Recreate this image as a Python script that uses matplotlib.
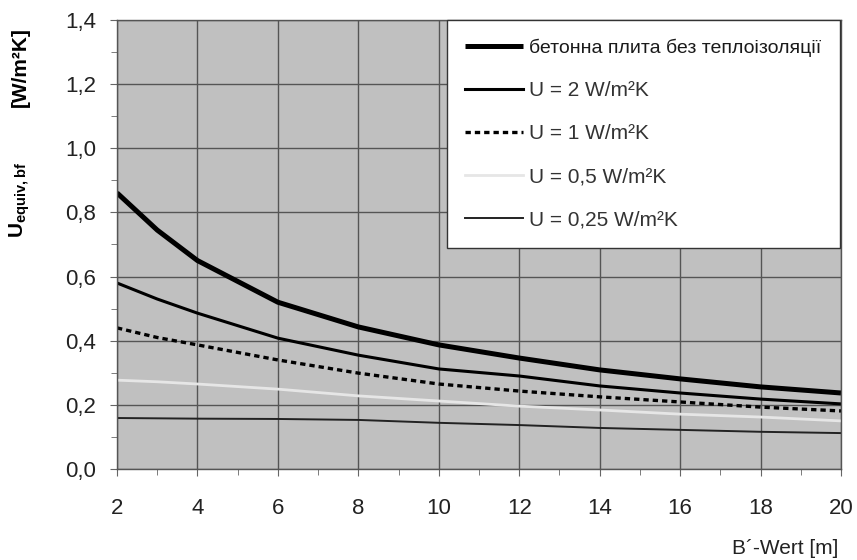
import matplotlib
matplotlib.use("Agg")
import matplotlib.pyplot as plt
from matplotlib.ticker import MultipleLocator, FuncFormatter

plt.rcParams['font.family'] = ['Liberation Sans', 'DejaVu Sans']
plt.rcParams['mathtext.fontset'] = 'custom'
plt.rcParams['mathtext.bf'] = 'Liberation Sans:bold'
plt.rcParams['mathtext.rm'] = 'Liberation Sans'

x = [2, 3, 4, 6, 8, 10, 12, 14, 16, 18, 20]
s_concrete = [0.861, 0.745, 0.650, 0.520, 0.443, 0.387, 0.346, 0.309, 0.281, 0.256, 0.237]
s_u2 = [0.580, 0.530, 0.486, 0.408, 0.355, 0.312, 0.290, 0.259, 0.237, 0.218, 0.203]
s_u1 = [0.440, 0.410, 0.387, 0.340, 0.299, 0.265, 0.243, 0.225, 0.209, 0.193, 0.181]
s_u05 = [0.277, 0.272, 0.265, 0.249, 0.228, 0.212, 0.196, 0.184, 0.171, 0.162, 0.150]
s_u025 = [0.159, 0.158, 0.157, 0.156, 0.153, 0.144, 0.137, 0.128, 0.122, 0.116, 0.112]

labels = ["бетонна плита без теплоізоляції", "U = 2 W/m²K", "U = 1 W/m²K",
          "U = 0,5 W/m²K", "U = 0,25 W/m²K"]
xticks = [2, 4, 6, 8, 10, 12, 14, 16, 18, 20]
yticks = [0.0, 0.2, 0.4, 0.6, 0.8, 1.0, 1.2, 1.4]

fig = plt.figure(figsize=(8.57, 5.6), dpi=100)
ax = fig.add_axes([117/857, 91/560, 724/857, 449/560])
ax.set_facecolor('#c0c0c0')

l1, = ax.plot(x, s_concrete, color='black', lw=3.6, solid_capstyle='butt')
l2, = ax.plot(x, s_u2, color='black', lw=2.2)
l3, = ax.plot(x, s_u1, color='black', lw=2.4, linestyle=(0, (1.6, 1.2)))
l4, = ax.plot(x, s_u05, color='#e6e6e6', lw=2.0)
l5, = ax.plot(x, s_u025, color='#222222', lw=1.4)

ax.set_xlim(2, 20)
ax.set_ylim(0, 1.4)
ax.set_xticks(xticks)
ax.set_yticks(yticks)
ax.xaxis.set_minor_locator(MultipleLocator(1))
ax.yaxis.set_minor_locator(MultipleLocator(0.1))
ax.yaxis.set_major_formatter(FuncFormatter(lambda v, p: f"{v:.1f}".replace('.', ',')))
ax.grid(True, which='major', color='#555555', lw=1.0)
ax.set_axisbelow(True)
ax.tick_params(which='both', direction='out', colors='#666666', labelcolor='#222222',
               labelsize=16)
ax.tick_params(which='major', length=5)
ax.tick_params(which='minor', length=4)
ax.tick_params(axis='x', which='major', pad=16)
ax.tick_params(axis='y', which='major', pad=10)
for sp in ax.spines.values():
    sp.set_color('#555555')
    sp.set_linewidth(1.0)

leg = ax.legend([l1, l2, l3, l4, l5], labels, loc='upper right',
                bbox_to_anchor=(0.9985, 1.0), fontsize=15, frameon=True,
                fancybox=False, shadow=False, edgecolor='#333333', framealpha=1,
                handlelength=2.75, handletextpad=0.3, labelspacing=1.15,
                borderpad=0.9, borderaxespad=0.0)
leg.get_frame().set_linewidth(1.0)
leg.get_texts()[0].set_fontsize(14)
leg.get_texts()[0].set_color('#1a1a1a')
for t in leg.get_texts()[1:]:
    t.set_color('#333333')

fig.text(20/857, (560-67)/560, '[W/m²K]', rotation=90, ha='center', va='center',
         fontsize=15, fontweight='bold')
fig.text(20/857, (560-200)/560, r'$\mathbf{U}_{\mathbf{equiv,bf}}$', rotation=90,
         ha='center', va='center', fontsize=15)
fig.text(838/857, (560-548)/560, "B´-Wert [m]", ha='right', va='center',
         fontsize=15, color='#222222')

fig.savefig('out.png', dpi=100)
